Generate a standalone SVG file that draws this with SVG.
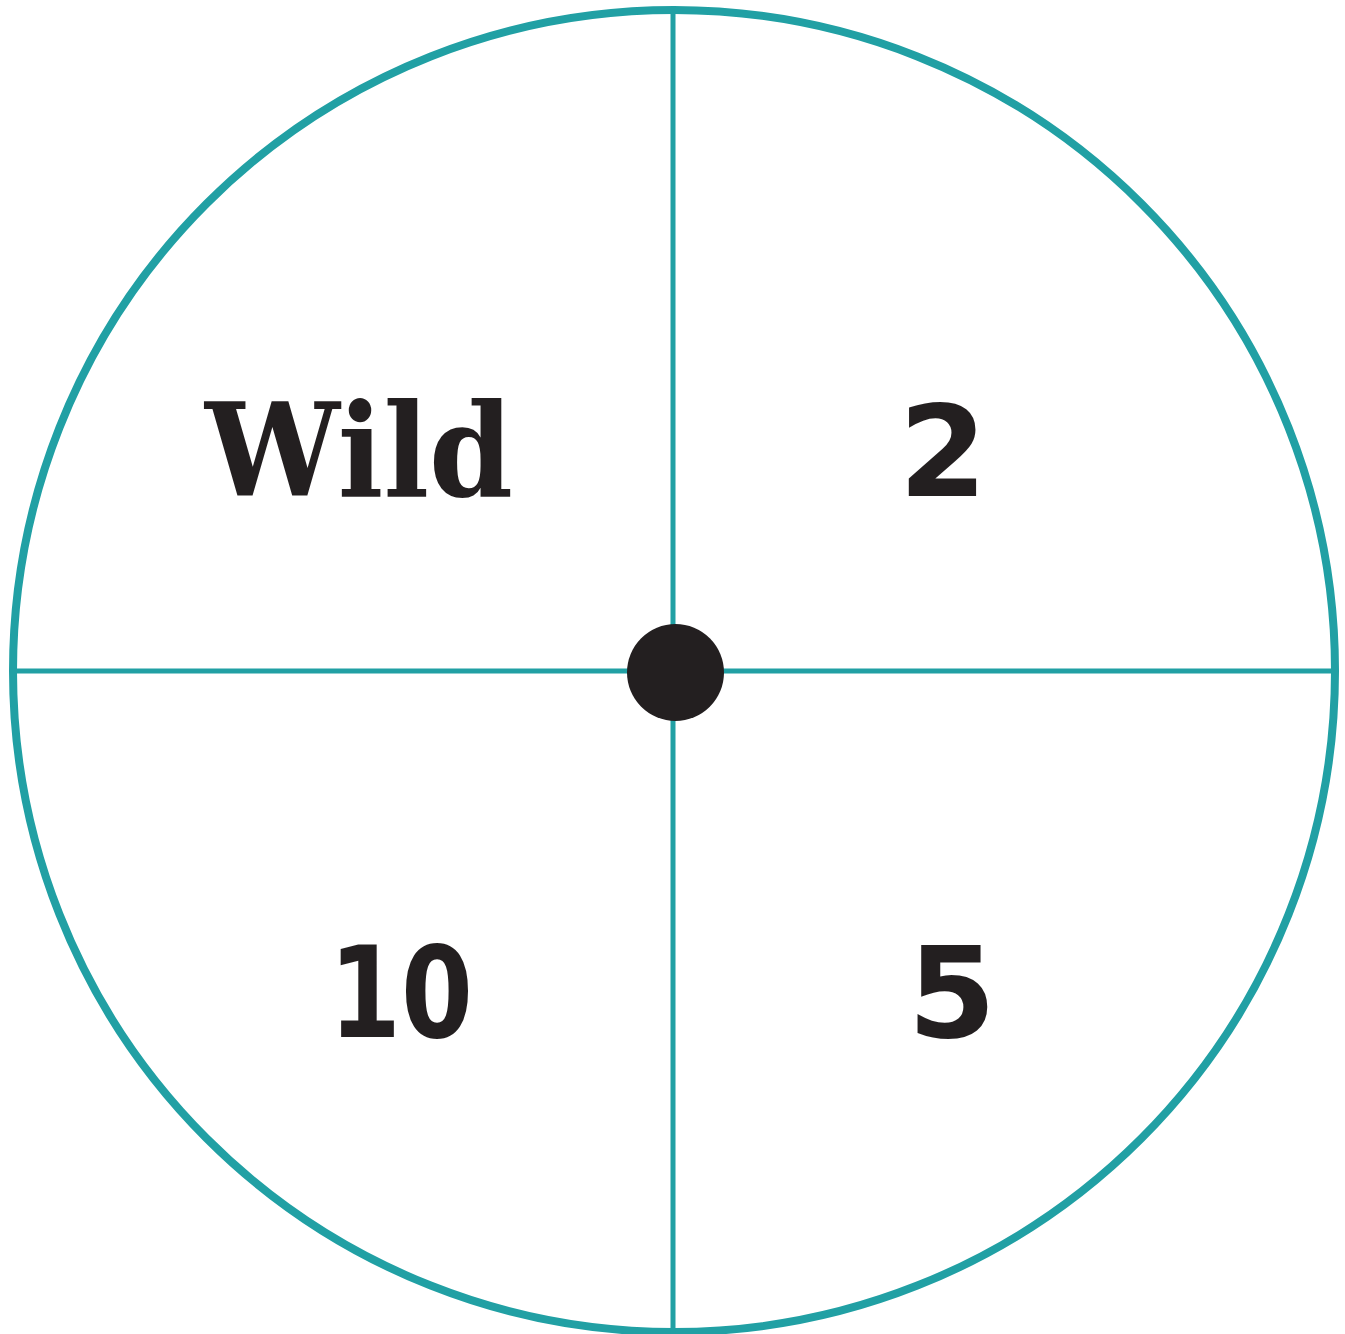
<svg xmlns="http://www.w3.org/2000/svg" width="1345" height="1334" viewBox="0 0 1345 1334">
<style>
.rim{fill:none;stroke:#21a0a4;stroke-width:8}
.div{stroke:#21a0a4;stroke-width:5}
.lbl{fill:#231f20;font-weight:bold;text-anchor:middle}
.num{font-family:"DejaVu Sans","Liberation Sans",sans-serif;font-size:127px}
.wild{font-family:"DejaVu Serif","Liberation Serif",serif;font-size:130px}
</style>
<rect width="1345" height="1334" fill="#fff"/>
<g id="spinner">
<circle class="rim" cx="674" cy="671" r="661"/>
<g id="dividers">
<line class="div" x1="673" y1="12" x2="673" y2="1334"/>
<line class="div" x1="14" y1="671" x2="1334" y2="671"/>
</g>
<circle id="hub" cx="675.5" cy="672.5" r="48.5" fill="#231f20"/>
</g>
<g id="sector-wild"><text class="lbl wild" x="359" y="496" textLength="308" lengthAdjust="spacingAndGlyphs">Wild</text></g>
<g id="sector-2"><text class="lbl num" x="943" y="496">2</text></g>
<g id="sector-10"><text class="lbl num" x="401" y="1037" textLength="144" lengthAdjust="spacingAndGlyphs">10</text></g>
<g id="sector-5"><text class="lbl num" x="952" y="1037">5</text></g>
</svg>
